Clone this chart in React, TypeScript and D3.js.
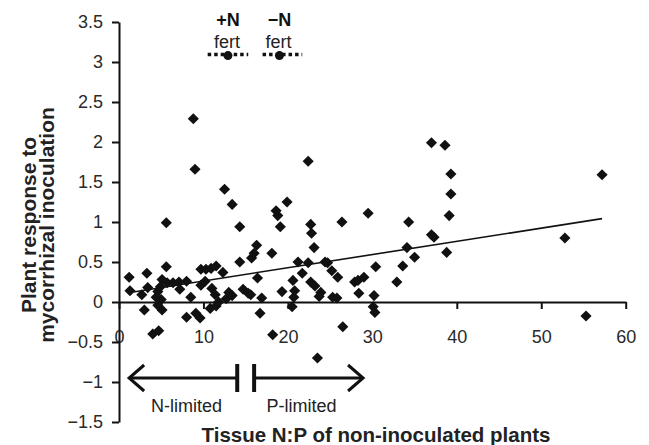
import React, { useRef, useEffect } from "react";
import * as d3 from "d3";

// tissue N:P (x) vs plant response to inoculation (y)
const points: [number, number][] = [
  [1.2, 0.31], [1.3, 0.14], [3.3, 0.36], [2.7, 0.09], [3.4, 0.18], [3.0, -0.1],
  [5.6, 0.99], [5.6, 0.44], [5.1, 0.28], [4.9, 0.19], [4.6, 0.13], [4.4, 0.06],
  [5.0, 0.03], [4.6, -0.04], [5.1, -0.1], [4.0, -0.4], [4.7, -0.36], [5.7, 0.24],
  [6.4, 0.24], [7.1, 0.25], [7.2, 0.16], [8.0, 0.26], [8.5, 0.06], [8.0, -0.19],
  [9.1, -0.14], [9.6, -0.2], [8.8, 2.29], [9.0, 1.66],
  [9.7, 0.41], [10.3, 0.41], [10.9, 0.42], [11.5, 0.45], [12.3, 0.37], [9.7, 0.21],
  [10.2, 0.26], [11.0, 0.17], [11.4, 0.09], [10.8, -0.08], [11.5, -0.05], [11.8, 0.0],
  [12.7, 0.04], [13.0, 0.12], [13.4, 0.08], [12.5, 1.41], [13.4, 1.22], [14.3, 0.94],
  [14.3, 0.5], [14.7, 0.16], [15.3, 0.11], [15.6, 0.09], [15.7, 0.55], [16.0, 0.61],
  [16.3, 0.71], [16.4, 0.3], [16.9, 0.05], [16.7, -0.14], [18.1, 0.61], [18.2, -0.41],
  [18.6, 1.14], [18.8, 1.08], [19.1, 0.94], [19.3, 0.13], [19.9, 1.25], [20.5, -0.06],
  [20.6, 0.27], [20.8, 0.14], [20.7, 0.06], [21.2, 0.5], [21.7, 0.36], [22.4, 0.49],
  [22.4, 1.76], [22.7, 0.97], [22.8, 0.86], [23.1, 0.68], [22.7, 0.25], [23.2, 0.2],
  [23.9, 0.12], [23.7, 0.07], [23.5, -0.7], [24.4, 0.5], [24.7, 0.49], [25.2, 0.39],
  [25.9, 0.31], [25.3, 0.06], [25.8, 0.05], [26.4, 1.0], [26.5, -0.31], [27.9, 0.25],
  [28.3, 0.27], [29.0, 0.31], [28.4, 0.11], [29.5, 1.11], [30.4, 0.44], [30.2, 0.08],
  [30.1, -0.06], [30.3, -0.13],
  [32.9, 0.25], [33.6, 0.45], [34.1, 0.68], [34.3, 1.0], [35.0, 0.56], [37.0, 0.84],
  [37.3, 0.81], [37.0, 1.99], [38.6, 1.96], [39.3, 1.6], [39.3, 1.35], [39.1, 1.08],
  [38.8, 0.62], [52.8, 0.8], [55.3, -0.175], [57.2, 1.59],
];

const xTicks = [0, 10, 20, 30, 40, 50, 60];
const yTicks = [-1.5, -1, -0.5, 0, 0.5, 1, 1.5, 2, 2.5, 3, 3.5];

// fitted line
const trendIntercept = 0.098;
const trendSlope = 0.0165;
const trendRange = [1.7, 57.2];

// fertiliser means with range, drawn at the top
const fertLabels = ["+N", "\u2212N"];
const fertMean = [12.9, 19.0];
const fertLo = [10.5, 17.0];
const fertHi = [15.3, 21.7];
const fertLevel = 3.08;

// N-limited / P-limited arrows
const limitLabels = ["N-limited", "P-limited"];
const limitStart = [14.0, 16.0];
const limitEnd = [1.2, 28.9];
const limitLabelX = [8.0, 21.6];
const limitLevel = -0.95;

const FONT = "'Liberation Sans', Arial, Helvetica, sans-serif";

export default function App() {
  const svgRef = useRef<SVGSVGElement>(null);

  useEffect(() => {
    const svg = d3.select(svgRef.current);
    svg.selectAll("*").remove();

    const x = d3.scaleLinear().domain([0, 60]).range([119, 625.7]);
    const y = d3.scaleLinear().domain([-1.5, 3.5]).range([422, 22]);
    const fmt = (d: any) => d3.format("~g")(d);

    // axes
    const gx = svg.append("g").attr("transform", `translate(0,${y(0)})`)
      .call(d3.axisBottom(x).tickValues(xTicks).tickSize(7).tickSizeOuter(0).tickPadding(21).tickFormat(fmt));
    const gy = svg.append("g").attr("transform", `translate(${x(0)},0)`)
      .call(d3.axisLeft(y).tickValues(yTicks).tickSize(7).tickSizeOuter(0).tickPadding(9).tickFormat(fmt));
    [gx, gy].forEach(g => {
      g.selectAll("path, line").attr("stroke", "#111").attr("stroke-width", 2);
      g.selectAll("text").attr("font-family", FONT).attr("font-size", 18).attr("fill", "#2a2a2a");
      g.attr("font-family", null).attr("font-size", null);
    });

    // points
    const diamond = d3.symbol().type(d3.symbolSquare).size(62);
    svg.append("g").selectAll("path").data(points).join("path")
      .attr("d", diamond)
      .attr("transform", d => `translate(${x(d[0])},${y(d[1])}) rotate(45)`)
      .attr("fill", "#111");

    // trend line
    svg.append("line")
      .attr("x1", x(trendRange[0])).attr("y1", y(trendIntercept + trendSlope * trendRange[0]))
      .attr("x2", x(trendRange[1])).attr("y2", y(trendIntercept + trendSlope * trendRange[1]))
      .attr("stroke", "#111").attr("stroke-width", 1.6);

    // fertiliser legend
    const fert = svg.append("g");
    fertLabels.forEach((lab, i) => {
      const cx = x(fertMean[i]);
      fert.append("line")
        .attr("x1", x(fertLo[i])).attr("x2", x(fertHi[i]))
        .attr("y1", y(fertLevel) - 1).attr("y2", y(fertLevel) - 1)
        .attr("stroke", "#111").attr("stroke-width", 3.5).attr("stroke-dasharray", "3.5,3");
      fert.append("circle").attr("cx", cx).attr("cy", y(fertLevel)).attr("r", 4.5).attr("fill", "#111");
      fert.append("text").attr("x", cx).attr("y", 26).attr("text-anchor", "middle")
        .attr("font-family", FONT).attr("font-size", 18).attr("font-weight", "bold").attr("fill", "#111").text(lab);
      fert.append("text").attr("x", cx - 1).attr("y", 48).attr("text-anchor", "middle")
        .attr("font-family", FONT).attr("font-size", 18).attr("fill", "#222").text("fert");
    });

    // limitation arrows
    const lim = svg.append("g").attr("stroke", "#111").attr("fill", "none");
    limitLabels.forEach((lab, i) => {
      const x0 = x(limitStart[i]);
      const x1 = x(limitEnd[i]);
      const ay = y(limitLevel);
      const dir = x1 < x0 ? 1 : -1;
      lim.append("line").attr("x1", x0).attr("x2", x1).attr("y1", ay).attr("y2", ay).attr("stroke-width", 3);
      lim.append("line").attr("x1", x0).attr("x2", x0).attr("y1", ay - 14).attr("y2", ay + 14).attr("stroke-width", 4);
      lim.append("path")
        .attr("d", `M${x1 + dir * 15},${ay - 13}L${x1},${ay}L${x1 + dir * 15},${ay + 13}`)
        .attr("stroke-width", 3);
      svg.append("text").attr("x", x(limitLabelX[i])).attr("y", 412).attr("text-anchor", "middle")
        .attr("font-family", FONT).attr("font-size", 18).attr("fill", "#222").text(lab);
    });

    // axis titles
    svg.append("text").attr("x", 376).attr("y", 442).attr("text-anchor", "middle")
      .attr("font-family", FONT).attr("font-size", 20.5).attr("font-weight", "bold").attr("fill", "#222")
      .text("Tissue N:P of non-inoculated plants");
    const yt = svg.append("text").attr("transform", "translate(0,225) rotate(-90)").attr("text-anchor", "middle")
      .attr("font-family", FONT).attr("font-size", 21).attr("font-weight", "bold").attr("fill", "#222");
    yt.append("tspan").attr("x", 0).attr("y", 36).text("Plant response to");
    yt.append("tspan").attr("x", 0).attr("y", 54).text("mycorrhizal inoculation");
  }, []);

  return (
    <svg ref={svgRef} width={649} height={445}
      style={{ position: "absolute", left: 0, top: 0, background: "#fff" }} />
  );
}
